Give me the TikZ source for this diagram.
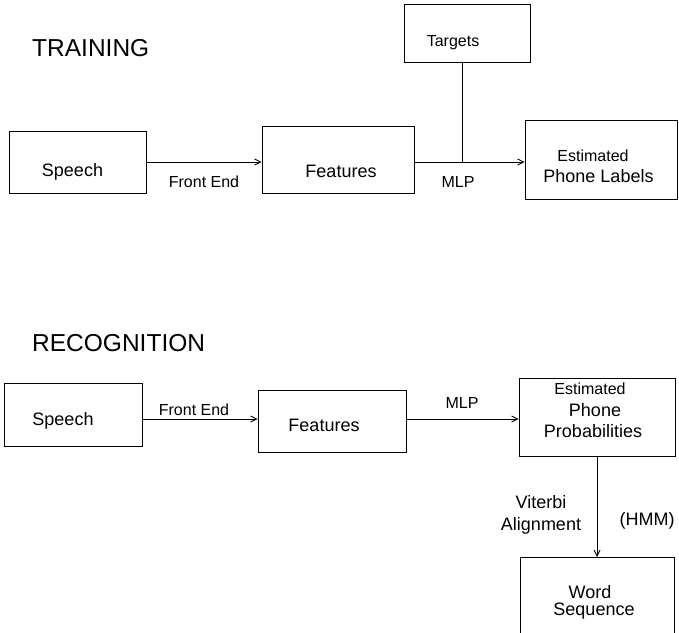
\documentclass[tikz,border=0pt]{standalone}
\usepackage{fontspec}
\setmainfont{Liberation Sans}
\usetikzlibrary{arrows.meta}
\begin{document}
\begin{tikzpicture}[x=1pt,y=1pt,
        box/.style={draw,line width=0.9pt,inner sep=0pt},
        big/.style={font=\fontsize{18}{20}\selectfont,anchor=base,inner sep=0pt},
        small/.style={font=\fontsize{16}{18}\selectfont,anchor=base,inner sep=0pt},
        title/.style={font=\fontsize{24.5}{28}\selectfont,anchor=base west,inner sep=0pt},
        arr/.style={line width=0.9pt,-{Straight Barb[length=6pt,width=6pt]}}]
        \useasboundingbox (0,0) rectangle (679,632);
        \clip (0,0) rectangle (679,632);
        % training
        \node[title] (train) at (32,575) {TRAINING};
        \node[box,minimum width=137pt,minimum height=62pt] (speechT) at (77.5,470) {};
        \node[box,minimum width=152pt,minimum height=67pt] (featT) at (338,472.5) {};
        \node[box,minimum width=126pt,minimum height=58pt] (targets) at (467,599) {};
        \node[box,minimum width=152pt,minimum height=79pt] (estT) at (601,472.5) {};
        \coordinate (rowT) at (0,470);
        \coordinate (mlpT) at (462,470);
        \draw[arr] (speechT.east |- rowT) -- (featT.west |- rowT);
        \draw[arr] (featT.east |- rowT) -- (estT.west |- rowT);
        \draw[line width=0.9pt] (targets.south -| mlpT) -- (mlpT);
        \node[big] (speechTtxt) at (72.5,455) {Speech};
        \node[big] (featTtxt) at (341,454) {Features};
        \node[small] (targetstxt) at (453,585) {Targets};
        \node[small] (estTtxt) at (593,470) {Estimated};
        \node[big] (phoneTtxt) at (598.5,449) {Phone Labels};
        \node[small] (frontT) at (204,444) {Front End};
        \node[small] (mlpTtxt) at (458,444) {MLP};
        % recognition
        \node[title] (recog) at (32,280) {RECOGNITION};
        \node[box,minimum width=138pt,minimum height=63pt] (speechR) at (73,217.5) {};
        \node[box,minimum width=148pt,minimum height=62pt] (featR) at (332,211) {};
        \node[box,minimum width=156pt,minimum height=78pt] (estR) at (597,215) {};
        \node[box,minimum width=154pt,minimum height=110pt,anchor=north] (wordR) at (597,75) {};
        \coordinate (rowR) at (0,213);
        \draw[arr] (speechR.east |- rowR) -- (featR.west |- rowR);
        \draw[arr] (featR.east |- rowR) -- (estR.west |- rowR);
        \draw[arr] (estR.south) -- (wordR.north);
        \node[big] (speechRtxt) at (63,207) {Speech};
        \node[big] (featRtxt) at (324,201) {Features};
        \node[small] (frontR) at (194,217) {Front End};
        \node[small] (mlpRtxt) at (462,224) {MLP};
        \node[small] (estRtxt) at (590,237) {Estimated};
        \node[big] (phoneRtxt) at (595,215) {Phone};
        \node[big] (probRtxt) at (593,195) {Probabilities};
        \node[big] (viterbi) at (541,124) {Viterbi};
        \node[big] (align) at (541,102) {Alignment};
        \node[big] (hmm) at (647,107) {(HMM)};
        \node[big] (wordtxt) at (590,34) {Word};
        \node[big] (seqtxt) at (594,17) {Sequence};
\end{tikzpicture}
\end{document}
